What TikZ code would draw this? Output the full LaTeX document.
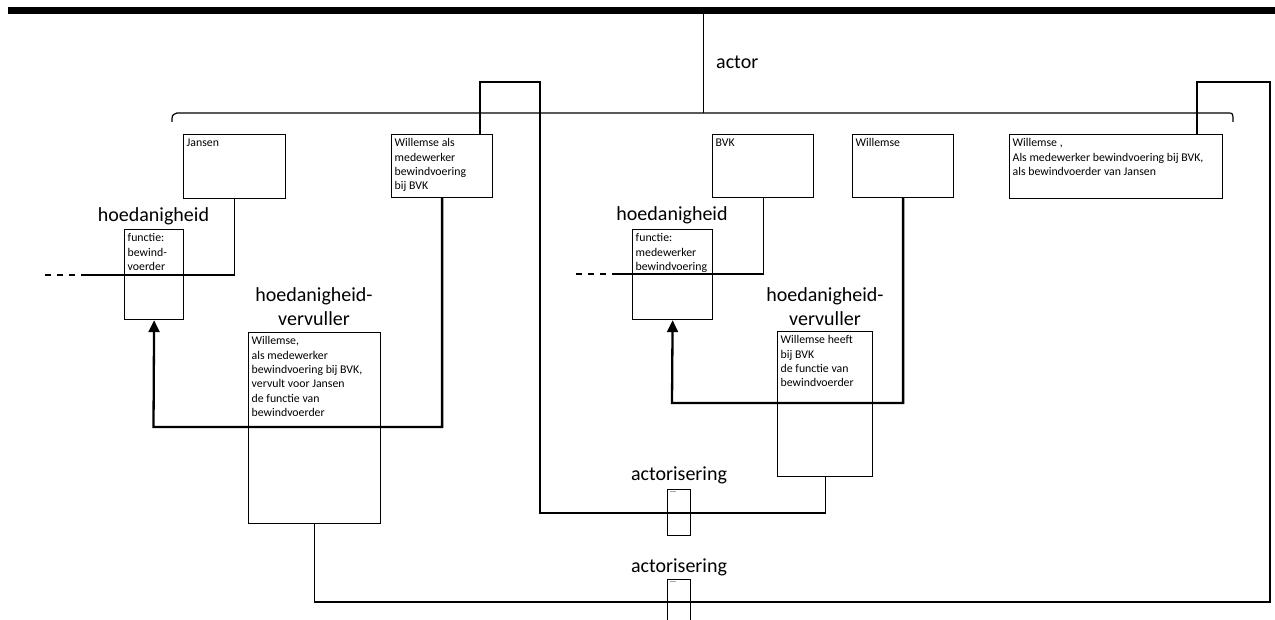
\documentclass[tikz,border=0pt]{standalone}
\usepackage{fontspec}
\setmainfont{Carlito}
\usetikzlibrary{arrows.meta}
\begin{document}
\begin{tikzpicture}[x=1pt,y=-1pt,
  box/.style={draw, line width=1.2pt, anchor=north west, inner sep=0pt},
  boxtext/.style={anchor=north west, inner xsep=3.5pt, inner ysep=4.5pt, align=left, font=\fontsize{11.8}{14.3}\selectfont},
  tinytext/.style={anchor=north west, inner xsep=3pt, inner ysep=2pt, font=\fontsize{8}{9}\selectfont},
  title/.style={font=\fontsize{20}{24}\selectfont, align=center, inner sep=0pt},
  conn/.style={line width=1.2pt},
  flow/.style={line width=2.3pt, -{Triangle[width=11pt,length=12pt]}},
]
\useasboundingbox (0,0) rectangle (1275,620);

% top bar and actor stem
\coordinate (barL) at (8,10.5);
\coordinate (barR) at (1275,10.5);
\draw[line width=7pt] (barL) -- (barR);
\coordinate (stemTop) at (703,14);
\coordinate (stemBot) at (703,113);
\draw[line width=1pt] (stemTop) -- (stemBot);
\node[title, anchor=west] (actor) at (716,62) {actor};

% brace
\coordinate (brL) at (172,122);
\coordinate (brR) at (1233,122);
\draw[conn] (brL) .. controls (172,115) .. (177,113) -- (1228,113) .. controls (1233,113) .. (brR);

% boxes
\node[box, minimum width=102pt, minimum height=64pt, label={[boxtext]north west:{Jansen}}] (jansen) at (183,134) {};
\node[box, minimum width=101pt, minimum height=63pt, label={[boxtext]north west:{Willemse als\\medewerker\\bewindvoering\\bij BVK}}] (wals) at (391,134) {};
\node[box, minimum width=101pt, minimum height=63pt, label={[boxtext]north west:{BVK}}] (bvk) at (712,134) {};
\node[box, minimum width=101pt, minimum height=63pt, label={[boxtext]north west:{Willemse}}] (willemse) at (852,134) {};
\node[box, minimum width=213pt, minimum height=64pt, label={[boxtext]north west:{Willemse ,\\Als medewerker bewindvoering bij BVK,\\als bewindvoerder van Jansen}}] (wfull) at (1009,134) {};

\node[box, minimum width=59pt, minimum height=90pt, label={[boxtext]north west:{functie:\\bewind-\\voerder}}] (hoedL) at (124,229) {};
\node[box, minimum width=80pt, minimum height=90pt, label={[boxtext]north west:{functie:\\medewerker\\bewindvoering}}] (hoedR) at (632,229) {};

\node[box, minimum width=132pt, minimum height=191pt, label={[boxtext]north west:{Willemse,\\als medewerker\\bewindvoering bij BVK,\\vervult voor Jansen\\de functie van\\bewindvoerder}}] (vervL) at (248,332) {};
\node[box, minimum width=95pt, minimum height=145pt, label={[boxtext]north west:{Willemse heeft\\bij BVK\\de functie van\\bewindvoerder}}] (vervR) at (777,331) {};

\node[box, minimum width=23pt, minimum height=46pt, label={[tinytext]north west:{...}}] (actU) at (667,489) {};
\node[box, minimum width=23pt, minimum height=48pt, label={[tinytext]north west:{...}}] (actD) at (667,579) {};

% titles
\node[title] (tHoedL) at (153.5,216) {hoedanigheid};
\node[title] (tHoedR) at (672,215) {hoedanigheid};
\node[title] (tVervL) at (314,307) {hoedanigheid-\\vervuller};
\node[title] (tVervR) at (825,307) {hoedanigheid-\\vervuller};
\node[title] (tActU) at (679,475) {actorisering};
\node[title] (tActD) at (679,567) {actorisering};

% hoedanigheid connectors with dashed continuation
\coordinate (dL) at (81,275);
\coordinate (dLend) at (45,275);
\draw[conn] (jansen.south) |- (dL);
\draw[conn, dash pattern=on 6pt off 6pt, dash phase=6pt] (dL) -- (dLend);
\coordinate (dR) at (612,274);
\coordinate (dRend) at (575,274);
\draw[conn] (bvk.south) |- (dR);
\draw[conn, dash pattern=on 6pt off 6pt, dash phase=6pt] (dR) -- (dRend);

% arrows to hoedanigheid
\coordinate (aL) at (153.5,427);
\draw[flow] (wals.south) |- (aL) -- (hoedL.south);
\coordinate (aR) at (672,403);
\draw[flow] (willemse.south) |- (aR) -- (hoedR.south);

% left loop
\coordinate (lp1) at (480,82);
\coordinate (lp2) at (540,82);
\coordinate (lp3) at (540,513);
\draw[conn] (wals.north -| lp1) -- (lp1) -- (lp2) -- (lp3) -| (vervR.south);

% right loop
\coordinate (rp1) at (1197,82);
\coordinate (rp2) at (1270,82);
\coordinate (rp3) at (1270,602);
\draw[conn] (wfull.north -| rp1) -- (rp1) -- (rp2) -- (rp3) -| (vervL.south);
\end{tikzpicture}
\end{document}
